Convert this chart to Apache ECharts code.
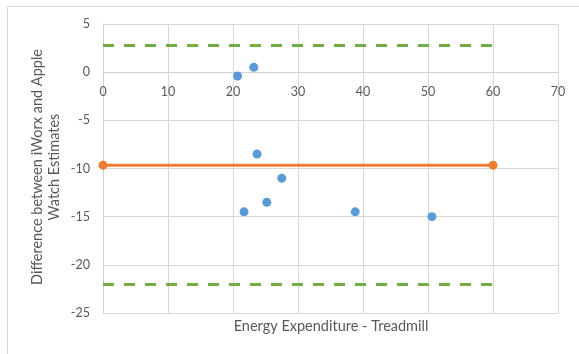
<!DOCTYPE html>
<html>
<head>
<meta charset="utf-8">
<script src="https://cdn.jsdelivr.net/npm/echarts@6/dist/echarts.min.js"></script>
<style>html,body{margin:0;padding:0;background:#fff}#c{width:579px;height:354px}</style>
</head>
<body>
<div id="c"></div>
<script>
var treadmill = [20.7, 23.2, 23.7, 27.5, 21.7, 25.2, 38.8, 50.6];
var difference = [-0.4, 0.5, -8.5, -11.0, -14.5, -13.5, -14.5, -15.0];
var meanX = [0, 60];
var meanDiff = -9.65;
var upperLoA = 2.78;
var lowerLoA = -22.05;
var xTitle = 'Energy Expenditure - Treadmill';
var yTitleLines = ['Difference between iWorx and Apple', 'Watch Estimates'];

var yMin = -25, yMax = 5;
var gridTop = 24, gridBottom = 41, H = 354;
var plotH = H - gridTop - gridBottom;
// move the x axis (line + labels) up to y = 0, as in the original
var xAxisOffset = -plotH * (0 - yMin) / (yMax - yMin);

var font = 'Lato, "Open Sans", sans-serif';
var chart = echarts.init(document.getElementById('c'), null, {renderer: 'canvas'});
chart.setOption({
  animation: false,
  backgroundColor: '#fff',
  graphic: [
    {
      type: 'rect', shape: {x: 7.5, y: 6.5, width: 600, height: 400},
      style: {fill: 'none', stroke: '#d9d9d9', lineWidth: 1}, silent: true, z: -1
    },
    {
      type: 'text', x: 331, y: 326,
      style: {text: xTitle, fill: '#595959', font: '14.5px ' + font, align: 'center', verticalAlign: 'middle'}
    },
    {
      type: 'text', x: 46, y: 167, rotation: Math.PI / 2,
      style: {text: yTitleLines.join('\n'), fill: '#595959', font: '14.5px ' + font,
              align: 'center', verticalAlign: 'middle', lineHeight: 17}
    }
  ],
  grid: {left: 103, right: 21, top: gridTop, bottom: gridBottom, containLabel: false, outerBoundsMode: 'none'},
  xAxis: {
    type: 'value', min: 0, max: 70, interval: 10,
    offset: xAxisOffset,
    axisLine: {show: true, onZero: false, lineStyle: {color: '#d0d0d0', width: 1}},
    axisTick: {show: false},
    axisLabel: {color: '#595959', fontSize: 12.5, fontFamily: font, margin: 13},
    splitLine: {show: true, lineStyle: {color: '#d9d9d9', width: 1}}
  },
  yAxis: {
    type: 'value', min: yMin, max: yMax, interval: 5,
    axisLine: {show: true, onZero: false, lineStyle: {color: '#d0d0d0', width: 1}},
    axisTick: {show: false},
    axisLabel: {color: '#595959', fontSize: 12.5, fontFamily: font, margin: 13},
    splitLine: {show: true, lineStyle: {color: '#d9d9d9', width: 1}}
  },
  series: [
    {
      type: 'line', data: meanX.map(function(x){return [x, upperLoA];}),
      showSymbol: false, symbol: 'none',
      lineStyle: {color: '#70ad47', width: 3, type: [11, 10], cap: 'butt'}, z: 2
    },
    {
      type: 'line', data: meanX.map(function(x){return [x, lowerLoA];}),
      showSymbol: false, symbol: 'none',
      lineStyle: {color: '#70ad47', width: 3, type: [11, 10], cap: 'butt'}, z: 2
    },
    {
      type: 'line', data: meanX.map(function(x){return [x, meanDiff];}),
      symbol: 'circle', symbolSize: 9,
      itemStyle: {color: '#ed7d31'},
      lineStyle: {color: '#ed7d31', width: 3}, z: 3
    },
    {
      type: 'scatter', data: treadmill.map(function(x, i){return [x, difference[i]];}),
      symbol: 'circle', symbolSize: 9,
      itemStyle: {color: '#5b9bd5', opacity: 1}, z: 4
    }
  ]
});
</script>
</body>
</html>
